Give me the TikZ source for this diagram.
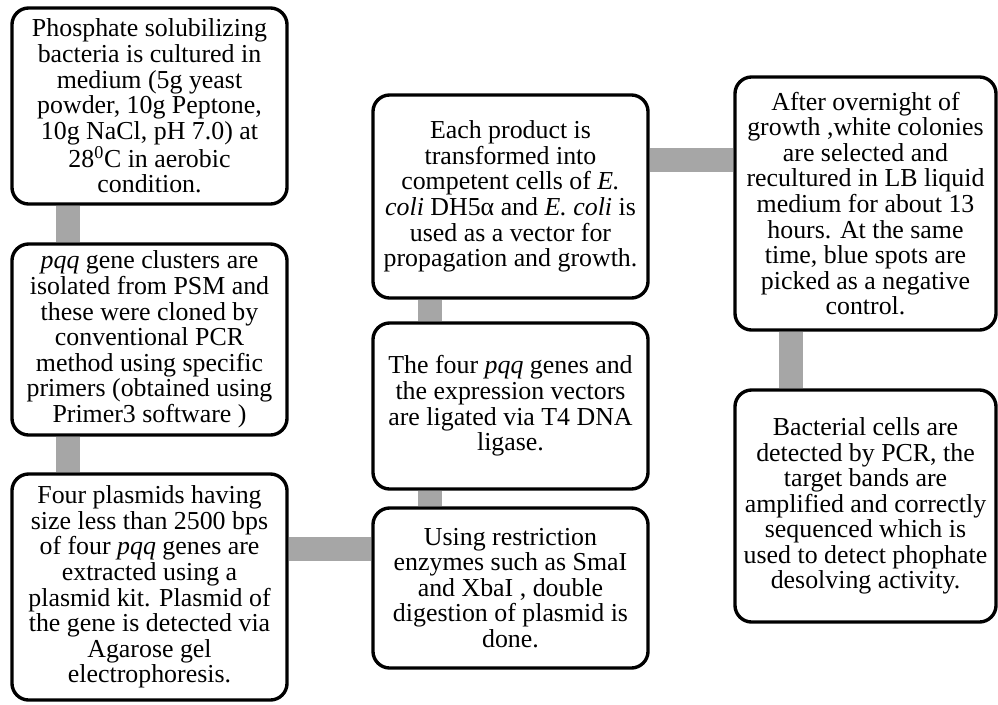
\documentclass[tikz,border=0pt]{standalone}
\usepackage{fontspec}
\setmainfont{Liberation Serif}
\usetikzlibrary{backgrounds}
\tikzset{
  psmbox/.style={
    rectangle, rounded corners=0.42cm, draw=black, line width=2.4pt, fill=white,
    minimum width=6.875cm, align=center, inner sep=0pt,
    font=\fontsize{18.4}{18.2}\selectfont
  },
  psmwide/.style={psmbox, minimum width=6.525cm},
  psmbar/.style={line width=0.6cm, draw=gray!70},
}
\begin{document}
\begin{tikzpicture}[x=0.025cm, y=-0.025cm]
  \useasboundingbox (0,0) rectangle (998,704);
  % first column
  \node (n1) [psmbox, minimum height=4.9cm] at (149.5,106) {Phosphate solubilizing\\bacteria is cultured in\\medium (5g yeast\\powder, 10g Peptone,\\10g NaCl, pH 7.0) at\\28\textsuperscript{0}C in aerobic\\condition.};
  \node (n2) [psmbox, minimum height=4.775cm] at (149.5,339.5) {\textit{pqq} gene clusters are\\isolated from PSM and\\these were cloned by\\conventional PCR\\method using specific\\primers (obtained using\\Primer3 software )};
  \node (n3) [psmbox, minimum height=5.65cm] at (149.5,587) {Four plasmids having\\size less than 2500 bps\\of four \textit{pqq} genes are\\extracted using a\\plasmid kit. Plasmid of\\the gene is detected via\\Agarose gel\\electrophoresis.};
  % second column
  \node (n4) [psmbox, minimum height=5.075cm] at (510.5,196.5) {Each product is\\transformed into\\competent cells of \textit{E.}\\\textit{coli} DH5α and \textit{E. coli} is\\used as a vector for\\propagation and growth.};
  \node (n5) [psmbox, minimum height=4.15cm] at (510.5,406) {The four \textit{pqq} genes and\\the expression vectors\\are ligated via T4 DNA\\ligase.};
  \node (n6) [psmbox, minimum height=4.0cm] at (510.5,588) {Using restriction\\enzymes such as SmaI\\and XbaI , double\\digestion of plasmid is\\done.};
  % third column
  \node (n7) [psmwide, minimum height=6.325cm] at (865.5,203.5) {After overnight of\\growth ,white colonies\\are selected and\\recultured in LB liquid\\medium for about 13\\hours. At the same\\time, blue spots are\\picked as a negative\\control.};
  \node (n8) [psmwide, minimum height=5.8cm] at (865.5,506) {Bacterial cells are\\detected by PCR, the\\target bands are\\amplified and correctly\\sequenced which is\\used to detect phophate\\desolving activity.};
  \coordinate (c3) at ([yshift=0.95cm]n3.east);
  \coordinate (c4) at ([yshift=0.9125cm]n4.east);
  \begin{scope}[on background layer]
    \draw[psmbar] ([xshift=-2.025cm]n1.south) -- ([xshift=-2.025cm]n2.north);
    \draw[psmbar] ([xshift=-2.025cm]n2.south) -- ([xshift=-2.025cm]n3.north);
    \draw[psmbar] (c3) -- (c3 -| n6.west);
    \draw[psmbar] ([xshift=-2.0cm]n6.north) -- ([xshift=-2.0cm]n5.south);
    \draw[psmbar] ([xshift=-2.0cm]n5.north) -- ([xshift=-2.0cm]n4.south);
    \draw[psmbar] (c4) -- (c4 -| n7.west);
    \draw[psmbar] ([xshift=-1.8625cm]n7.south) -- ([xshift=-1.8625cm]n8.north);
  \end{scope}
\end{tikzpicture}
\end{document}
